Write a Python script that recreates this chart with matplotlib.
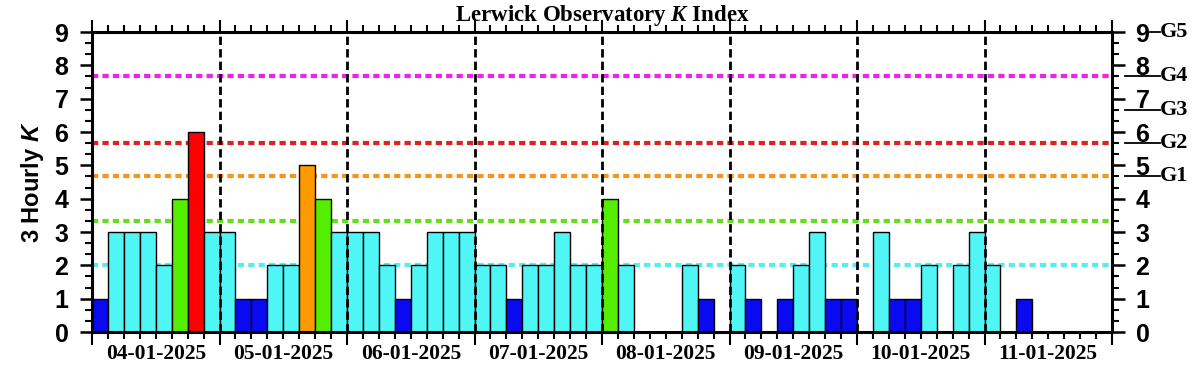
import numpy as np
import matplotlib.pyplot as plt
from matplotlib.transforms import blended_transform_factory

plt.rcParams['mathtext.fontset'] = 'custom'
plt.rcParams['mathtext.it'] = 'Liberation Serif:italic:bold'
plt.rcParams['mathtext.sf'] = 'Liberation Sans:italic:bold'

# 3-hourly K values, 8 per day
days = ['04-01-2025', '05-01-2025', '06-01-2025', '07-01-2025',
        '08-01-2025', '09-01-2025', '10-01-2025', '11-01-2025']
k_values = [1, 3, 3, 3, 2, 4, 6, 3,
            3, 1, 1, 2, 2, 5, 4, 3,
            3, 3, 2, 1, 2, 3, 3, 3,
            2, 2, 1, 2, 2, 3, 2, 2,
            4, 2, 0, 0, 0, 2, 1, 0,
            2, 1, 0, 1, 2, 3, 1, 1,
            0, 3, 1, 1, 2, 0, 2, 3,
            2, 0, 1, 0, 0, 0, 0, 0]

# storm thresholds and labels
g_levels = [4.67, 5.67, 6.67, 7.67, 9]
g_names = ['G1', 'G2', 'G3', 'G4', 'G5']
thresh_vals = [2.0, 3.33, 4.67, 5.67, 7.67]
thresh_cols = ['#55eeee', '#66dd22', '#f7941d', '#dd2222', '#ee22ee']


def k_colour(k):
    if k <= 1:
        return '#0a0af0'
    if k <= 3:
        return '#50f5f5'
    if k == 4:
        return '#55ee00'
    if k == 5:
        return '#ff9900'
    return '#ff0000'


fig = plt.figure(figsize=(12.03, 3.75), dpi=100)
ax = fig.add_axes([92 / 1203, 43 / 375, 1020 / 1203, 300 / 375])

x = np.arange(len(k_values))
ax.bar(x, k_values, width=1, align='edge',
       color=[k_colour(k) for k in k_values], edgecolor='black', linewidth=1, zorder=2)

for v, c in zip(thresh_vals, thresh_cols):
    ax.axhline(v, color=c, lw=3, dashes=(1.5, 1), zorder=1)

for d in range(1, len(days)):
    ax.axvline(d * 8, color='black', lw=2, dashes=(3, 1.5), zorder=3)

ax.set_xlim(0, len(k_values))
ax.set_ylim(0, 9)

for s in ax.spines.values():
    s.set_linewidth(2.2)

ax.set_xticks(np.arange(0, 65, 8))
ax.set_xticks(np.arange(0, 65, 1), minor=True)
ax.set_xticklabels([])
ax.tick_params(axis='x', which='major', length=9, width=1.5, top=True, direction='out')
ax.tick_params(axis='x', which='minor', length=5, width=1.5, top=True, direction='out')

ax.set_yticks(range(10))
ax.set_yticks(np.arange(0, 9, 1 / 3), minor=True)
ax.tick_params(axis='y', which='major', length=9, width=1.8, right=True, labelright=True,
               direction='out', pad=8, labelsize=18)
ax.tick_params(axis='y', which='minor', length=5, width=1.5, right=True, direction='out')
for lab in ax.get_yticklabels():
    lab.set_fontweight('bold')
    lab.set_fontfamily('Liberation Sans')

ax.set_ylabel('3 Hourly $\\mathsf{K}$', fontsize=17, fontweight='bold',
              fontfamily='Liberation Sans', labelpad=6)

trans = blended_transform_factory(ax.transData, ax.transAxes)
for i, d in enumerate(days):
    ax.text(i * 8 + 4, -0.073, d, transform=trans, ha='center', va='center',
            fontsize=15.5, fontweight='bold', fontfamily='Liberation Serif')

ax.set_title('Lerwick Observatory $K$ Index', fontsize=16.5,
             fontweight='bold', fontfamily='Liberation Serif', pad=8)

# G scale on the right
rtrans = blended_transform_factory(ax.transAxes, ax.transData)
for lvl, name in zip(g_levels, g_names):
    x0 = 1.037 if name == 'G5' else 1.013
    ax.plot([x0, 1.047], [lvl, lvl], color='black', lw=1.3, transform=rtrans, clip_on=False)
    ax.text(1.047, lvl, name, transform=rtrans, ha='left', va='center',
            fontsize=16, fontweight='bold', fontfamily='Liberation Serif')

fig.savefig('out.png', dpi=100)
